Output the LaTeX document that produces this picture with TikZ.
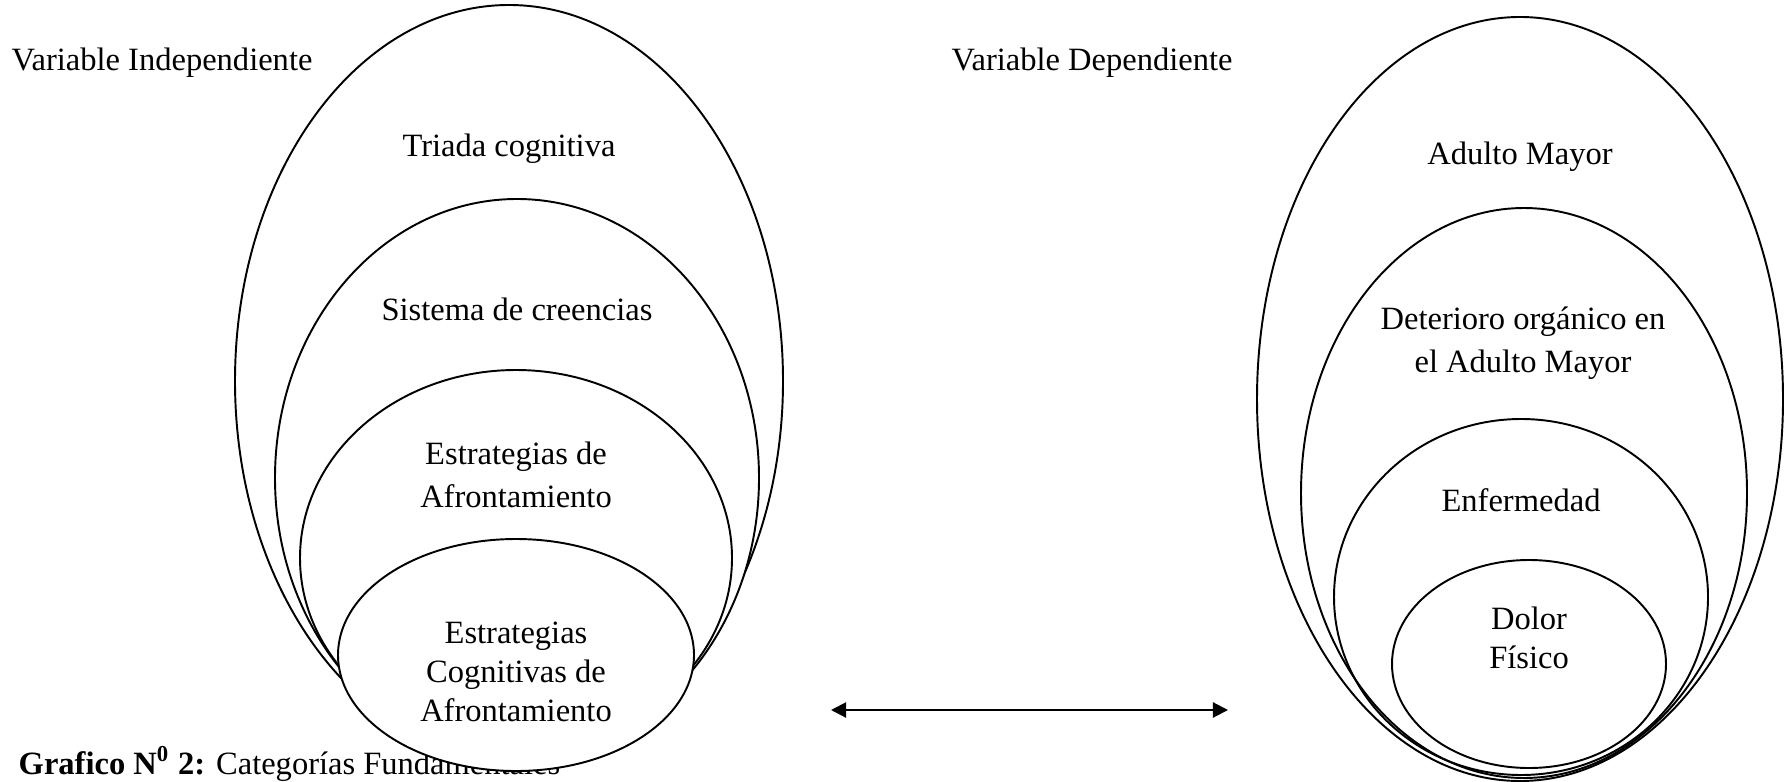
\documentclass[tikz,border=0pt]{standalone}
\usepackage{fontspec}
\setmainfont{Liberation Serif}
\usepackage{tikz}
\usetikzlibrary{arrows.meta}

\tikzset{
  lbl/.style={inner sep=0pt, align=center, font=\fontsize{9.25}{12.3}\selectfont},
  tightlbl/.style={lbl, font=\fontsize{9.25}{11}\selectfont},
  ring/.style={line width=0.55pt, fill=white},
  openring/.style={line width=0.55pt}
}

\begin{document}
\begin{tikzpicture}[x=0.01cm, y=-0.01cm]
			%%%%% START %%%%%
			\useasboundingbox (0, 0) rectangle (1785, 782);
			
			\node[lbl, anchor=west] (capt) at (18, 764) {\textbf{Grafico N$^{\mathbf{0}}$ 2:} Categorías Fundamentales};
			
			% independiente
			\node[lbl, anchor=west] (indep) at (11, 63) {Variable Independiente};
			\draw[ring] (509, 381) ellipse (274 and 376);
			\draw[ring] (517, 478) ellipse (242 and 279);
			\draw[ring] (516, 558) ellipse (216 and 188);
			\draw[ring] (516, 655) ellipse (178 and 116);
			
			\node[lbl] (triada) at (509, 149) {Triada cognitiva};
			\node[lbl] (creencias) at (517, 309) {Sistema de creencias};
			\node[lbl] (afront) at (516, 475) {Estrategias de\\Afrontamiento};
			\node[tightlbl] (cognit) at (516, 672) {Estrategias\\Cognitivas de\\Afrontamiento};
			
			% dependiente
			\node[lbl, anchor=west] (dep) at (951, 63) {Variable Dependiente};
			\draw[openring] (1520, 399) ellipse (263 and 382);
			\draw[openring] (1524, 493) ellipse (223 and 285);
			\draw[openring] (1521, 597) ellipse (187 and 178);
			\draw[openring] (1529, 664) ellipse (137 and 104);
			
			\node[lbl] (adulto) at (1520, 157) {Adulto Mayor};
			\node[lbl] (deterioro) at (1523, 343) {Deterioro orgánico en\\el Adulto Mayor};
			\node[lbl] (enferm) at (1521, 500) {Enfermedad};
			\node[tightlbl] (dolor) at (1529, 638) {Dolor\\Físico};
			
			% relacion
			\coordinate (relA) at (831, 710);
			\coordinate (relB) at (1228, 710);
			\draw[line width=0.6pt, {Triangle[length=4.3pt,width=4.3pt]}-{Triangle[length=4.3pt,width=4.3pt]}] (relA) -- (relB);
			%%%%% END %%%%%
\end{tikzpicture}
\end{document}
